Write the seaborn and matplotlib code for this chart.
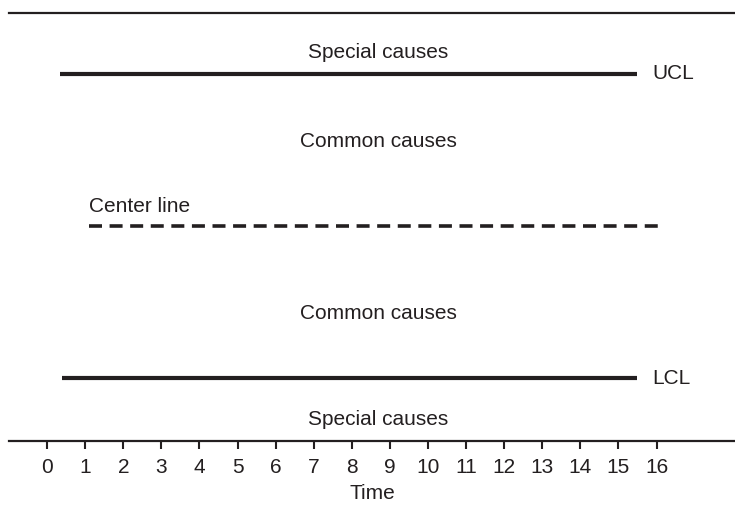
import matplotlib
matplotlib.use("Agg")
import matplotlib.pyplot as plt
import seaborn as sns
import pandas as pd

# chart data
limit_names = ["UCL", "Center line", "LCL"]
limit_values = [3, 0, -3]
limit_start = [0.35, 1.1, 0.38]
limit_end = [15.5, 16.22, 15.5]
time_ticks = list(range(17))
zone_labels = ["Special causes", "Common causes", "Common causes", "Special causes"]
zone_y = [3.42, 1.66, -1.72, -3.82]

sns.set_theme(style="white")
plt.rcParams["font.family"] = ["Liberation Sans", "DejaVu Sans"]
ink = "#231f20"
fs = 15

fig = plt.figure(figsize=(7.35, 5.05), dpi=100)
ax = fig.add_axes([9 / 735, 64 / 505, 726 / 735, 428 / 505])

for name, val, x0, x1 in zip(limit_names, limit_values, limit_start, limit_end):
    df = pd.DataFrame({"time": [x0, x1], "value": [val, val]})
    ls = (0, (3.6, 2.1)) if name == "Center line" else "-"
    lw = 2.6 if name == "Center line" else 3.0
    sns.lineplot(data=df, x="time", y="value", ax=ax, color=ink, lw=lw, linestyle=ls,
                 solid_capstyle="butt", dash_capstyle="butt")

# labels on the limits
for name, val, x1 in zip(limit_names, limit_values, limit_end):
    if name == "Center line":
        ax.text(limit_start[1], val + 0.2, name, fontsize=fs, color=ink,
                ha="left", va="bottom")
    else:
        ax.text(15.9, val, name, fontsize=fs, color=ink, ha="left", va="center")

for lab, y in zip(zone_labels, zone_y):
    ax.text(8.7, y, lab, fontsize=fs, color=ink, ha="center", va="center")

ax.set_xlim(-1.0, 18.06)
ax.set_ylim(-4.24, 4.2)
ax.set_xticks(time_ticks)
ax.set_xticklabels([str(t) for t in time_ticks], fontsize=fs, color=ink)
ax.set_yticks([])
ax.tick_params(axis="x", direction="out", length=6, width=1.5, color=ink, pad=6,
               bottom=True)
ax.set_xlabel("Time", fontsize=fs, color=ink, labelpad=5)
ax.set_ylabel("")
for side in ["left", "right"]:
    ax.spines[side].set_visible(False)
for side in ["top", "bottom"]:
    ax.spines[side].set_color(ink)
    ax.spines[side].set_linewidth(1.6)

fig.savefig("out.png", dpi=100)
